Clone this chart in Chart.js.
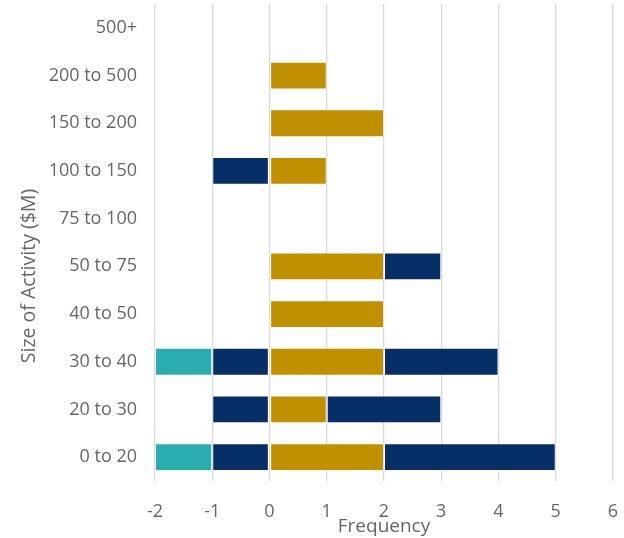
<!DOCTYPE html>
<html>
<head>
<meta charset="utf-8">
<script src="https://cdn.jsdelivr.net/npm/chart.js@4"></script>
<style>
  html, body { margin: 0; padding: 0; background: #fff; }
  #wrap { width: 624px; height: 538px; }
</style>
</head>
<body>
<div id="wrap"><canvas id="chart"></canvas></div>
<script>
// categories listed bottom to top
const sizes = ['0 to 20', '20 to 30', '30 to 40', '40 to 50', '50 to 75', '75 to 100', '100 to 150', '150 to 200', '200 to 500', '500+'];
const navyNeg = [-1, -1, -1, 0, 0, 0, -1, 0, 0, 0];
const tealNeg = [-1, 0, -1, 0, 0, 0, 0, 0, 0, 0];
const goldPos = [2, 1, 2, 2, 2, 0, 1, 2, 1, 0];
const navyPos = [3, 2, 2, 0, 1, 0, 0, 0, 0, 0];

const xMin = -2, xMax = 6;
const FONT = '"Open Sans", Lato, sans-serif';
const GREY = '#666666';
const EDGE = 'rgba(255,255,255,0.3)';

// y axis title sits a bit below the middle of the axis, so it is drawn here
const yTitle = {
  id: 'yTitle',
  afterDraw(chart) {
    const ctx = chart.ctx;
    ctx.save();
    ctx.translate(29, 276);
    ctx.rotate(-Math.PI / 2);
    ctx.font = '19.5px ' + FONT;
    ctx.fillStyle = GREY;
    ctx.textAlign = 'center';
    ctx.textBaseline = 'middle';
    ctx.fillText('Size of Activity ($M)', 0, 0);
    ctx.restore();
  }
};

new Chart(document.getElementById('chart'), {
  type: 'bar',
  data: {
    labels: sizes,
    datasets: [
      { data: navyNeg, backgroundColor: '#052f66' },
      { data: tealNeg, backgroundColor: '#2aadad' },
      { data: goldPos, backgroundColor: '#c09000' },
      { data: navyPos, backgroundColor: '#052f66' }
    ]
  },
  options: {
    indexAxis: 'y',
    responsive: true,
    maintainAspectRatio: false,
    animation: false,
    layout: { padding: { top: 4, right: 11, left: 0, bottom: 0 } },
    datasets: { bar: { categoryPercentage: 0.6, barPercentage: 0.97, borderColor: EDGE, borderWidth: 1, borderSkipped: false } },
    plugins: { legend: { display: false }, tooltip: { enabled: false } },
    scales: {
      x: {
        stacked: true,
        min: xMin,
        max: xMax,
        grid: { color: '#d9d9d9', lineWidth: 1.3, drawTicks: false },
        border: { display: false },
        ticks: { stepSize: 1, color: GREY, padding: 20, font: { family: FONT, size: 18 } },
        title: { display: true, text: 'Frequency', color: GREY, padding: { top: 0, bottom: 0 }, font: { family: FONT, size: 19 } },
        afterFit: s => { s.height = 57; s.paddingLeft = 0; s.paddingRight = 0; }
      },
      y: {
        stacked: true,
        reverse: true,
        grid: { display: false, drawTicks: false },
        border: { display: false },
        ticks: { color: GREY, padding: 18, font: { family: FONT, size: 18 } },
        afterFit: s => { s.width = 155; s.paddingTop = 0; s.paddingBottom = 0; }
      }
    }
  },
  plugins: [yTitle]
});
</script>
</body>
</html>
